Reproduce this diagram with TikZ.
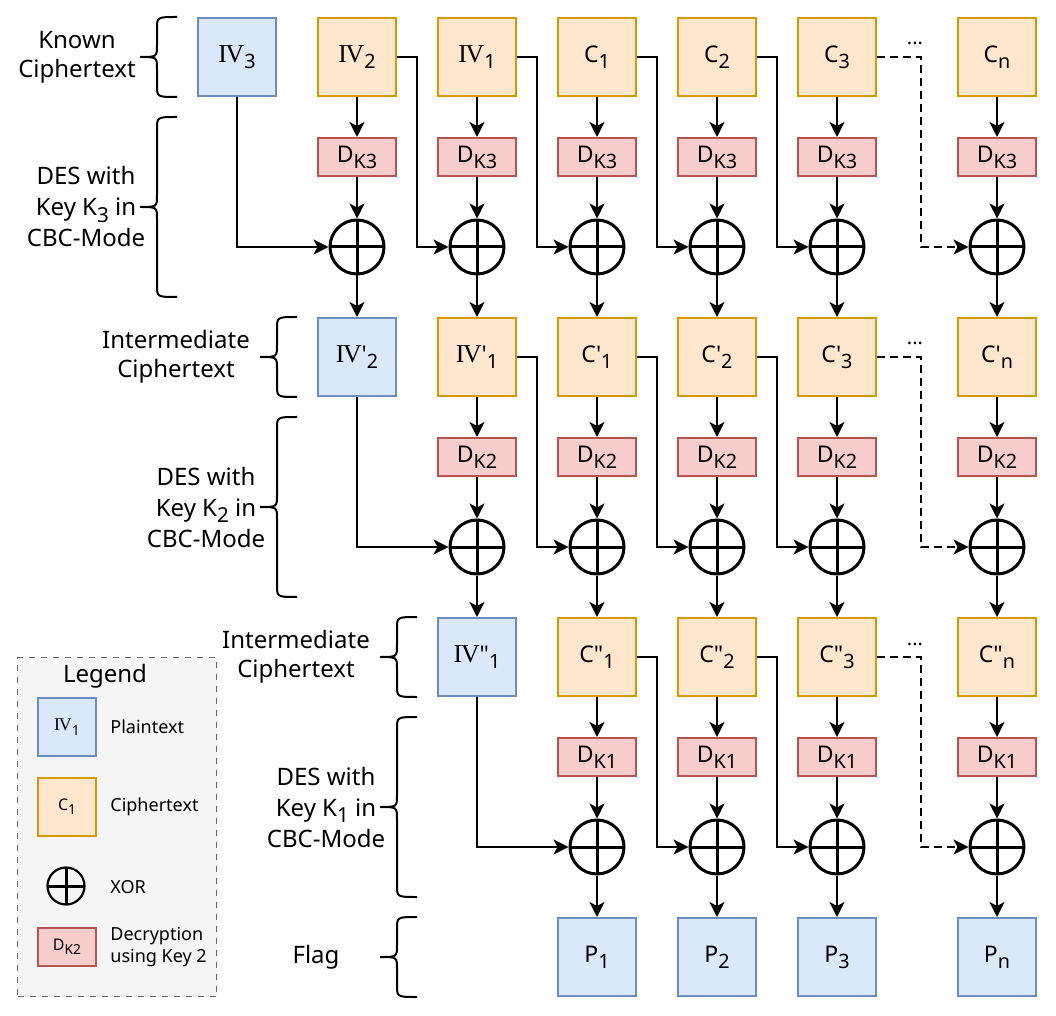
\documentclass[tikz,border=0pt]{standalone}
\usepackage{fontspec}
\setmainfont{Noto Sans}
\newfontfamily\ivf{Liberation Serif}[Scale=1.12]
\newfontfamily\pf{Noto Sans}
\usetikzlibrary{arrows.meta}
\definecolor{bfill}{HTML}{DAE8FC}\definecolor{bdraw}{HTML}{6C8EBF}
\definecolor{ofill}{HTML}{FFE6CC}\definecolor{odraw}{HTML}{D79B00}
\definecolor{rfill}{HTML}{F8CECC}\definecolor{rdraw}{HTML}{B85450}
\definecolor{lfill}{HTML}{F5F5F5}\definecolor{ldraw}{HTML}{666666}
\newcommand{\IV}{{\ivf I\kern-0.6pt V}}
\newcommand{\pr}{{\pf'}}
\newcommand{\ppr}{{\pf"}}
\newcommand{\sub}[1]{\raisebox{-0.27em}{\scalebox{0.86}{#1}}}
\newcommand{\brc}[4]{% tip x, top, bottom, mid
  \draw[line width=1pt] (#1+37,#2) .. controls (#1+17,#2) .. (#1+17,#2+12) -- (#1+17,#4-12)
   .. controls (#1+17,#4) .. (#1,#4) .. controls (#1+17,#4) .. (#1+17,#4+12) -- (#1+17,#3-12)
   .. controls (#1+17,#3) .. (#1+37,#3);}
\begin{document}
\begin{tikzpicture}[x=0.5pt,y=-0.5pt,
  font=\fontsize{12}{14.5}\selectfont,
  box/.style={draw, line width=1pt, minimum width=39pt, minimum height=39pt, inner sep=0pt,
    font=\fontsize{11.5}{14}\selectfont},
  bluebox/.style={box, fill=bfill, draw=bdraw},
  orbox/.style={box, fill=ofill, draw=odraw},
  dbox/.style={draw=rdraw, fill=rfill, line width=1pt, minimum width=39pt, minimum height=19pt, inner sep=0pt,
    font=\fontsize{11.5}{14}\selectfont},
  xor/.style={circle, draw, line width=1.5pt, minimum size=27pt, inner sep=0pt,
    path picture={\draw[line width=1.5pt] (path picture bounding box.north) -- (path picture bounding box.south)
      (path picture bounding box.west) -- (path picture bounding box.east);}},
  arr/.style={-{Stealth[length=7.5pt,width=7.5pt,inset=2pt]}, line width=1pt},
  dsh/.style={arr, dash pattern=on 4pt off 2.5pt},
  lbl/.style={align=center, inner sep=0pt},
  deslbl/.style={lbl, font=\fontsize{12}{15.5}\selectfont},
  small/.style={font=\fontsize{9}{11}\selectfont},
  tiny/.style={font=\fontsize{8}{10}\selectfont},
  dots/.style={font=\fontsize{10}{12}\selectfont, inner sep=0pt, anchor=base}]
\useasboundingbox (0,0) rectangle (1056,1016);

% legend
\node[draw=ldraw, fill=lfill, dashed, line width=0.75pt, minimum width=99.5pt, minimum height=169.5pt, inner sep=0pt] (legend) at (117,827) {};
\node[inner sep=0pt] (legendt) at (105,676) {Legend};
\node[bluebox, minimum width=29pt, minimum height=29pt, tiny] (lg1) at (67,727) {\IV\sub{1}};
\node[small, anchor=west, inner sep=0pt] (lg1t) at (110,727) {Plaintext};
\node[orbox, minimum width=29pt, minimum height=29pt, tiny] (lg2) at (67,807) {C\sub{1}};
\node[small, anchor=west, inner sep=0pt] (lg2t) at (110,807) {Ciphertext};
\node[xor, minimum size=18.5pt, line width=1.1pt] (lg3) at (66,886) {};
\node[small, anchor=west, inner sep=0pt] (lg3t) at (110,887) {XOR};
\node[dbox, minimum width=29pt, minimum height=19pt, tiny] (lg4) at (67,947) {D\sub{K2}};
\node[small, anchor=west, align=left, inner sep=0pt] (lg4t) at (110,947) {Decryption\\using Key 2};

% side labels
\node[lbl] (l1) at (77,57) {Known\\Ciphertext};
\node[deslbl] (l2) at (86,207) {DES with\\Key K\sub{3} in\\CBC-Mode};
\node[lbl] (l3) at (176,357) {Intermediate\\Ciphertext};
\node[deslbl] (l4) at (206,507) {DES with\\Key K\sub{2} in\\CBC-Mode};
\node[lbl] (l5) at (296,657) {Intermediate\\Ciphertext};
\node[deslbl] (l6) at (326,807) {DES with\\Key K\sub{1} in\\CBC-Mode};
\node[lbl] (l7) at (316,957) {Flag};
\brc{140}{17}{97}{57}
\brc{140}{117}{297}{207}
\brc{260}{317}{397}{357}
\brc{260}{417}{597}{507}
\brc{380}{617}{697}{657}
\brc{380}{717}{897}{807}
\brc{380}{917}{997}{957}

% row 1
\node[bluebox] (a0) at (237,57) {\IV\sub{3}};
\node[orbox] (a1) at (357,57) {\IV\sub{2}};
\node[orbox] (a2) at (477,57) {\IV\sub{1}};
\node[orbox] (a3) at (597,57) {C\sub{1}};
\node[orbox] (a4) at (717,57) {C\sub{2}};
\node[orbox] (a5) at (837,57) {C\sub{3}};
\node[orbox] (a6) at (997,57) {C\sub{n}};
\foreach \i/\x in {1/357,2/477,3/597,4/717,5/837,6/997} {
  \node[dbox] (da\i) at (\x,157) {D\sub{K3}};
  \node[xor] (xa\i) at (\x,247) {};
}
% row 2
\node[bluebox] (b1) at (357,357) {\IV\pr\sub{2}};
\node[orbox] (b2) at (477,357) {\IV\pr\sub{1}};
\node[orbox] (b3) at (597,357) {C\pr\sub{1}};
\node[orbox] (b4) at (717,357) {C\pr\sub{2}};
\node[orbox] (b5) at (837,357) {C\pr\sub{3}};
\node[orbox] (b6) at (997,357) {C\pr\sub{n}};
\foreach \i/\x in {2/477,3/597,4/717,5/837,6/997} {
  \node[dbox] (db\i) at (\x,457) {D\sub{K2}};
  \node[xor] (xb\i) at (\x,547) {};
}
% row 3
\node[bluebox] (c2) at (477,657) {\IV\ppr\sub{1}};
\node[orbox] (c3) at (597,657) {C\ppr\sub{1}};
\node[orbox] (c4) at (717,657) {C\ppr\sub{2}};
\node[orbox] (c5) at (837,657) {C\ppr\sub{3}};
\node[orbox] (c6) at (997,657) {C\ppr\sub{n}};
\foreach \i/\x in {3/597,4/717,5/837,6/997} {
  \node[dbox] (dc\i) at (\x,757) {D\sub{K1}};
  \node[xor] (xc\i) at (\x,847) {};
}
\node[bluebox] (p3) at (597,957) {P\sub{1}};
\node[bluebox] (p4) at (717,957) {P\sub{2}};
\node[bluebox] (p5) at (837,957) {P\sub{3}};
\node[bluebox] (p6) at (997,957) {P\sub{n}};

\node[dots] (e1) at (915,45) {...};
\node[dots] (e2) at (915,345) {...};
\node[dots] (e3) at (915,645) {...};

% vertical connectors
\foreach \i in {1,...,6} {
  \draw[arr] (a\i) -- (da\i);
  \draw[arr] (da\i) -- (xa\i);
  \draw[arr] (xa\i) -- (b\i);
}
\foreach \i in {2,...,6} {
  \draw[arr] (b\i) -- (db\i);
  \draw[arr] (db\i) -- (xb\i);
  \draw[arr] (xb\i) -- (c\i);
}
\foreach \i in {3,...,6} {
  \draw[arr] (c\i) -- (dc\i);
  \draw[arr] (dc\i) -- (xc\i);
  \draw[arr] (xc\i) -- (p\i);
}
% chaining connectors
\draw[arr] (a0.south) |- (xa1.west);
\foreach \i/\j in {1/2,2/3,3/4,4/5} \draw[arr] (a\i.east) -- ++(20,0) |- (xa\j.west);
\draw[dsh] (a5.east) -- ++(44,0) |- (xa6.west);
\draw[arr] (b1.south) |- (xb2.west);
\foreach \i/\j in {2/3,3/4,4/5} \draw[arr] (b\i.east) -- ++(20,0) |- (xb\j.west);
\draw[dsh] (b5.east) -- ++(44,0) |- (xb6.west);
\draw[arr] (c2.south) |- (xc3.west);
\foreach \i/\j in {3/4,4/5} \draw[arr] (c\i.east) -- ++(20,0) |- (xc\j.west);
\draw[dsh] (c5.east) -- ++(44,0) |- (xc6.west);
\end{tikzpicture}
\end{document}
